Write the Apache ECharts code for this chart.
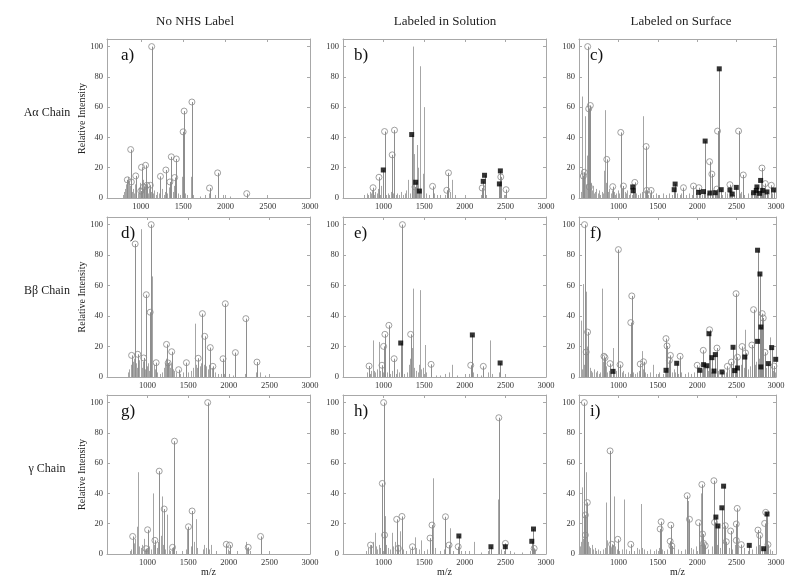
<!DOCTYPE html>
<html><head><meta charset="utf-8">
<script src="https://cdn.jsdelivr.net/npm/echarts@6/dist/echarts.min.js"></script>
<style>html,body{margin:0;padding:0;background:#fff}#c{width:800px;height:586px}</style>
</head><body><div id="c"></div>
<script>
const xTicks = [1000, 1500, 2000, 2500, 3000];
const yTicks = [0, 20, 40, 60, 80, 100];
const colTitles = ['No NHS Label', 'Labeled in Solution', 'Labeled on Surface'];
const rowTitles = ['A\u03b1 Chain', 'B\u03b2 Chain', '\u03b3 Chain'];
const panelLetters = ['a)', 'b)', 'c)', 'd)', 'e)', 'f)', 'g)', 'h)', 'i)'];
const xMins = [600, 500, 500, 500, 500, 500, 500, 500, 500];

// ---- a) ----
const aPeaks = [[790,2],[805,4],[815,6],[825,9],[832,5],[845,14],[852,7],[862,11],[870,8],[895,4],[905,6],[918,3],[930,9],[948,5],[962,3],[975,7],[990,10],[1018,6],[1025,12],[1040,4],[1048,9],[1064,5],[1080,3],[1095,6],[1120,4],[1140,3],[1160,5],[1175,2],[1190,4],[1210,3],[1250,6],[1268,2],[1285,4],[1310,3],[1330,7],[1352,5],[1375,4],[1390,8],[1440,3],[1460,2],[1490,14],[1520,3],[1540,2],[1590,14],[1620,2],[1700,1],[1760,2],[1800,3],[1880,2],[1970,2],[2060,1]];
const aCircles = [[1128,100],[880,32],[840,12],[888,10.6],[940,14.6],[1008,20.3],[1056,21.6],[1000,4.6],[1032,7.3],[1072,8.4],[1112,8.4],[1232,14.3],[1296,18.5],[1360,27.2],[1420,25.8],[1400,13.5],[1344,10.6],[1500,43.7],[1512,57.4],[1604,63.4],[1812,6.6],[1908,16.6],[2252,2.9]];
const aSquares = [];

// ---- b) ----
const bPeaks = [[760,2],[790,3],[810,2],[830,4],[845,3],[860,5],[880,2],[900,4],[920,3],[935,6],[955,2],[970,8],[1030,2],[1050,3],[1070,2],[1090,4],[1120,3],[1150,2],[1170,3],[1190,2],[1220,4],[1240,2],[1260,3],[1280,5],[1300,12],[1320,3],[1363,100],[1375,29],[1410,35],[1425,20],[1444,87],[1460,6],[1480,16],[1497,60],[1520,3],[1560,2],[1620,3],[1660,2],[1700,2],[1760,2],[1820,4],[1848,12],[1880,2],[2200,2],[2230,3],[2260,2],[2420,3],[2450,2],[2480,2]];
const bCircles = [[870,6.8],[943,13.7],[1012,43.9],[1134,44.8],[1106,28.5],[1387,7.3],[1603,7.7],[1799,16.6],[1778,5.1],[2214,6.6],[2443,13.9],[2508,5.5]];
const bSquares = [[996,18.5],[1346,41.9],[1395,10.4],[1440,4.6],[2227,11],[2243,15],[2426,9.3],[2438,17.9]];

// ---- c) ----
const cPeaks = [[520,4],[534,67],[545,8],[560,5],[570,12],[581,54],[595,9],[605,28],[615,6],[635,20],[650,10],[662,5],[675,8],[690,3],[705,4],[720,6],[735,3],[750,5],[765,2],[790,4],[805,3],[818,18],[826,7],[835,58],[845,10],[870,4],[885,6],[900,3],[915,5],[945,4],[960,2],[975,3],[990,5],[1010,3],[1045,6],[1080,4],[1095,3],[1110,5],[1130,2],[1150,3],[1170,2],[1195,4],[1225,3],[1250,2],[1270,3],[1295,4],[1318,54],[1335,5],[1350,3],[1380,2],[1400,3],[1440,2],[1480,3],[1520,2],[1560,3],[1600,2],[1640,3],[1680,2],[1740,3],[1780,2],[1800,3],[1860,2],[1900,3],[1930,2],[1980,3],[2000,2],[2040,3],[2060,2],[2120,3],[2140,4],[2200,3],[2240,4],[2270,3],[2320,2],[2350,4],[2380,3],[2400,5],[2430,3],[2470,2],[2540,3],[2560,4],[2600,2],[2640,3],[2680,4],[2700,2],[2730,3],[2770,4],[2850,3],[2900,2],[2950,3]];
const cCircles = [[610,100],[623,58.9],[644,61.1],[555,14.5],[568,17],[631,7.3],[852,25.5],[928,7.5],[1030,43.3],[1064,7.9],[1208,10.3],[1352,34],[1360,5],[1415,5],[1826,6.8],[1953,7.9],[2021,6.8],[2157,24],[2186,15.8],[2258,44.2],[2250,5.9],[2415,8.8],[2525,44.2],[2585,15.2],[2822,19.8],[2864,9.5],[2941,8.4]];
const cSquares = [[1182,7.3],[1186,4.8],[1708,5.5],[1720,9.2],[2101,37.6],[2017,3.7],[2080,4.2],[2161,3.3],[2229,3.5],[2280,85.3],[2305,5.5],[2415,5.3],[2445,2.6],[2496,7],[2716,3.5],[2750,5],[2758,7.3],[2792,3.1],[2805,11.6],[2830,5],[2885,4],[2970,5.3]];

// ---- d) ----
const dPeaks = [[760,3],[775,5],[790,8],[800,4],[815,10],[825,6],[835,12],[855,9],[865,6],[890,11],[900,7],[915,9],[924,97],[935,6],[945,10],[960,8],[970,5],[995,7],[1010,9],[1020,4],[1050,6],[1060,66],[1075,8],[1090,5],[1120,3],[1150,2],[1180,3],[1200,6],[1215,9],[1225,12],[1245,8],[1260,10],[1270,6],[1285,9],[1310,5],[1330,4],[1350,3],[1400,2],[1440,3],[1470,5],[1500,3],[1540,4],[1560,6],[1583,35],[1595,8],[1610,6],[1640,7],[1660,9],[1690,8],[1720,7],[1740,5],[1760,8],[1790,6],[1830,3],[1870,2],[1900,2],[1940,2],[2000,2],[2050,1],[2200,2],[2340,3],[2380,3],[2450,1]];
const dCircles = [[847,87.3],[1044,100],[984,54],[1032,42.5],[803,14.2],[879,14.9],[952,12.5],[1105,9.4],[1233,21.4],[1297,16.6],[1253,9.2],[1382,4.8],[1478,9.4],[1623,12.3],[1675,41.6],[1703,26.7],[1772,19.3],[1804,7],[1929,12],[1957,48.1],[2081,16],[2210,38.3],[2347,9.8]];
const dSquares = [];

// ---- e) ----
const ePeaks = [[800,3],[815,6],[830,2],[845,4],[866,24],[880,4],[900,3],[920,5],[947,23],[960,4],[990,3],[1040,3],[1080,2],[1100,4],[1150,2],[1170,5],[1190,3],[1250,2],[1290,3],[1310,8],[1320,12],[1340,10],[1354,19],[1366,58],[1380,6],[1400,4],[1420,3],[1435,8],[1447,57],[1460,5],[1480,6],[1504,21],[1520,3],[1580,2],[1640,1],[1700,1],[1760,2],[1800,3],[1841,8],[1900,1],[2000,1],[2050,2],[2100,3],[2150,2],[2200,1],[2280,3],[2309,24],[2330,2],[2420,3]];
const eCircles = [[1232,100],[821,7.2],[980,7.7],[1000,20.1],[1016,28],[1065,33.9],[1130,12],[1333,28],[1585,8.3],[2073,7.7],[2228,7]];
const eSquares = [[1211,22.3],[2093,27.6],[2435,9.2]];

// ---- f) ----
const fPeaks = [[525,37],[535,5],[549,61],[560,8],[575,12],[591,56],[600,20],[620,10],[635,6],[650,4],[670,3],[690,5],[710,3],[730,4],[750,2],[770,3],[787,58],[800,10],[815,5],[840,7],[860,3],[880,4],[905,3],[932,19],[950,3],[970,4],[990,2],[1040,3],[1060,4],[1090,2],[1120,3],[1145,2],[1190,3],[1210,2],[1240,3],[1260,4],[1294,17],[1310,5],[1340,3],[1360,2],[1400,3],[1440,8],[1480,2],[1520,3],[1560,2],[1590,4],[1630,6],[1680,3],[1700,5],[1720,3],[1760,2],[1800,3],[1840,2],[1880,3],[1920,2],[1960,3],[2000,4],[2040,3],[2060,5],[2100,6],[2140,4],[2170,3],[2200,5],[2260,4],[2300,3],[2340,4],[2370,3],[2400,5],[2440,6],[2480,4],[2530,5],[2560,8],[2590,6],[2604,31],[2640,5],[2670,7],[2700,4],[2730,8],[2750,10],[2785,12],[2820,9],[2870,6],[2900,5],[2923,26],[2960,4],[2985,3]];
const fCircles = [[570,100],[1000,83.6],[609,29.5],[591,16.4],[817,13.6],[830,12.7],[894,8.8],[1021,8.1],[1170,53.2],[1157,35.7],[1277,8.5],[1319,10],[1604,25.2],[1617,20.4],[1660,14.2],[1647,10.9],[1783,13.6],[2000,7.7],[2077,17.5],[2157,31],[2251,19],[2383,7],[2434,9.8],[2493,54.7],[2511,13],[2570,20],[2613,15.8],[2715,44.2],[2694,21],[2825,41.6],[2838,38.7],[2859,16.2],[2974,7.2]];
const fSquares = [[932,3.7],[1604,4.4],[1740,9],[2034,4.4],[2081,8.1],[2123,7.4],[2149,28.4],[2187,12.7],[2230,14.7],[2213,3.9],[2315,3.3],[2455,19.5],[2476,4.2],[2511,5.9],[2604,13.1],[2766,83.2],[2796,67.6],[2808,32.8],[2766,23.4],[2808,6.6],[2902,8.8],[2945,19.3],[2996,11.6]];

// ---- g) ----
const gPeaks = [[780,2],[800,3],[820,4],[835,7],[850,10],[865,18],[885,54],[900,5],[915,4],[930,6],[950,10],[965,3],[990,4],[1020,5],[1040,3],[1061,40],[1075,6],[1110,4],[1125,8],[1160,12],[1172,38],[1190,6],[1220,3],[1245,26],[1260,3],[1280,2],[1300,4],[1350,2],[1420,2],[1470,3],[1490,16],[1530,5],[1570,8],[1593,23],[1610,4],[1680,3],[1700,6],[1720,4],[1760,3],[1780,6],[1840,2],[1990,3],[2020,2],[2100,2],[2206,8],[2220,4],[2260,2],[2400,3]];
const gCircles = [[1740,100],[1331,74.5],[1143,54.7],[1204,29.7],[1548,28.4],[1503,18],[1000,16],[816,11.6],[1090,9],[980,3.5],[1307,4.4],[1969,6.4],[2010,5.9],[2239,4.4],[2391,11.6]];
const gSquares = [];

// ---- h) ----
const hPeaks = [[780,2],[810,4],[830,6],[850,3],[870,8],[891,14],[905,5],[920,3],[940,6],[960,4],[1020,25],[1030,6],[1060,4],[1080,3],[1101,14],[1120,5],[1140,8],[1180,6],[1200,15],[1240,3],[1280,2],[1330,3],[1383,11],[1400,4],[1440,3],[1463,9],[1500,2],[1540,3],[1613,50],[1630,4],[1700,2],[1740,3],[1814,17],[1860,2],[1950,2],[2050,2],[2108,8],[2200,1],[2280,2],[2300,3],[2410,36],[2440,3],[2480,2],[2560,2],[2600,1],[2700,1],[2800,2],[2840,6],[2860,3]];
const hCircles = [[1000,100],[984,46.6],[1012,12.5],[839,5.9],[1161,22.9],[1226,24.8],[1181,3.7],[1355,4.8],[1572,10.5],[1596,19.1],[1762,24.6],[1806,5.9],[1919,4.8],[2419,90],[2500,7],[2854,3.7]];
const hSquares = [[1927,11.9],[2322,4.8],[2499,4.8],[2825,8.4],[2846,16.5]];

// ---- i) ----
const iPeaks = [[500,18],[515,5],[530,8],[542,44],[555,10],[570,6],[589,54],[600,20],[615,8],[630,5],[645,4],[660,6],[680,3],[700,4],[720,2],[745,3],[770,2],[800,3],[830,4],[846,34],[860,9],[880,5],[905,4],[930,6],[948,38],[960,5],[980,3],[1010,2],[1040,3],[1076,36],[1100,3],[1130,2],[1160,3],[1200,2],[1230,4],[1260,3],[1284,33],[1300,4],[1330,3],[1360,2],[1400,3],[1450,2],[1480,3],[1520,4],[1550,3],[1580,2],[1620,3],[1700,4],[1750,3],[1800,2],[1850,3],[1880,35],[1920,4],[1950,3],[1990,5],[2030,6],[2050,40],[2100,4],[2140,3],[2190,5],[2230,20],[2250,6],[2290,4],[2320,8],[2350,5],[2400,4],[2440,3],[2480,6],[2520,5],[2560,3],[2600,4],[2640,2],[2700,3],[2740,5],[2780,6],[2820,4],[2880,25],[2920,3],[2950,2]];
const iCircles = [[568,100],[894,68.1],[606,34],[581,25.7],[581,12.5],[915,6.4],[992,9.7],[1157,6.4],[1542,21.3],[1530,16.5],[1665,19.1],[1657,8.4],[1678,5.3],[1873,38.5],[1902,22.9],[2017,20.7],[2059,45.9],[2068,13.2],[2080,7],[2102,5.5],[2212,48.4],[2220,20.9],[2356,18.7],[2369,8.1],[2424,15.2],[2508,30.1],[2496,19.8],[2496,9],[2559,6.2],[2771,15.8],[2792,12.3],[2856,20.2],[2869,27.5],[2898,6.2]];
const iSquares = [[2237,24.4],[2263,18.5],[2313,30.5],[2335,44.8],[2661,5.7],[2843,3.5],[2886,26.4]];

const peaksAll = [aPeaks, bPeaks, cPeaks, dPeaks, ePeaks, fPeaks, gPeaks, hPeaks, iPeaks];
const circlesAll = [aCircles, bCircles, cCircles, dCircles, eCircles, fCircles, gCircles, hCircles, iCircles];
const squaresAll = [aSquares, bSquares, cSquares, dSquares, eSquares, fSquares, gSquares, hSquares, iSquares];

// layout
const colLeft = [107, 343, 579];
const colWidth = [203, 203, 197];
const rowTop = [39, 217, 395];
const rowHeight = [159, 160, 159];
const colTitleX = [195, 445, 681];

const FONT = '"Liberation Serif","Times New Roman",serif';
const frameColor = '#a8a8a8';
const labelColor = '#333';
const plainNum = function (v) { return String(v); };

function stemRenderer(color) {
  return function (params, api) {
    const x = api.value(0), y = api.value(1);
    const p0 = api.coord([x, 0]);
    const p1 = api.coord([x, y]);
    const px = Math.round(p0[0]) + 0.5;
    return {
      type: 'line',
      shape: { x1: px, y1: p0[1], x2: px, y2: p1[1] },
      style: { stroke: color, lineWidth: 1 }
    };
  };
}

const grids = [], xAxes = [], yAxes = [], series = [], graphics = [];
for (let r = 0; r < 3; r++) {
  for (let c = 0; c < 3; c++) {
    const i = r * 3 + c;
    grids.push({ left: colLeft[c], top: rowTop[r], width: colWidth[c], height: rowHeight[r], show: false });
    const xBase = {
      type: 'value', gridIndex: i, min: xMins[i], max: 3000,
      axisLine: { show: true, onZero: false, lineStyle: { color: frameColor, width: 1 } },
      axisTick: { show: true, inside: true, length: 3, customValues: xTicks, lineStyle: { color: frameColor } },
      splitLine: { show: false }
    };
    xAxes.push(Object.assign({}, xBase, {
      position: 'bottom',
      axisLabel: { show: true, customValues: xTicks, formatter: plainNum, margin: 4, fontFamily: FONT, fontSize: 8.5, color: labelColor }
    }));
    xAxes.push(Object.assign({}, xBase, { position: 'top', axisLabel: { show: false } }));
    const yBase = {
      type: 'value', gridIndex: i, min: 0, max: 105,
      axisLine: { show: true, onZero: false, lineStyle: { color: frameColor, width: 1 } },
      axisTick: { show: true, inside: true, length: 3, customValues: yTicks, lineStyle: { color: frameColor } },
      splitLine: { show: false }
    };
    yAxes.push(Object.assign({}, yBase, {
      position: 'left',
      axisLabel: { show: true, customValues: yTicks, formatter: plainNum, margin: 4, fontFamily: FONT, fontSize: 8.5, color: labelColor }
    }));
    yAxes.push(Object.assign({}, yBase, { position: 'right', axisLabel: { show: false } }));

    const xi = i * 2, yi = i * 2;
    series.push({
      type: 'custom', xAxisIndex: xi, yAxisIndex: yi, renderItem: stemRenderer('#a6a6a6'),
      encode: { x: 0, y: 1 }, data: peaksAll[i], silent: true, clip: true, z: 1
    });
    series.push({
      type: 'custom', xAxisIndex: xi, yAxisIndex: yi, renderItem: stemRenderer('#8e8e8e'),
      encode: { x: 0, y: 1 }, data: circlesAll[i].concat(squaresAll[i]), silent: true, clip: true, z: 2
    });
    series.push({
      type: 'scatter', xAxisIndex: xi, yAxisIndex: yi, data: circlesAll[i],
      symbol: 'circle', symbolSize: 6, silent: true, z: 3,
      itemStyle: { color: 'rgba(0,0,0,0)', borderColor: '#8a8a8a', borderWidth: 1 }
    });
    series.push({
      type: 'scatter', xAxisIndex: xi, yAxisIndex: yi, data: squaresAll[i],
      symbol: 'rect', symbolSize: 5, silent: true, z: 4,
      itemStyle: { color: '#000' }
    });

    // panel letter
    graphics.push({
      type: 'text', x: colLeft[c] + (c === 0 ? 14 : 11), y: rowTop[r] + 17,
      style: { text: panelLetters[i], font: '17px ' + FONT, fill: '#111', textAlign: 'left', textVerticalAlign: 'middle' }
    });
  }
}
for (let c = 0; c < 3; c++) {
  graphics.push({
    type: 'text', x: colTitleX[c], y: 22,
    style: { text: colTitles[c], font: '13px ' + FONT, fill: '#222', textAlign: 'center', textVerticalAlign: 'middle' }
  });
  graphics.push({
    type: 'text', x: colLeft[c] + colWidth[c] / 2, y: 572,
    style: { text: 'm/z', font: '10px ' + FONT, fill: '#222', textAlign: 'center', textVerticalAlign: 'middle' }
  });
}
for (let r = 0; r < 3; r++) {
  graphics.push({
    type: 'text', x: 47, y: rowTop[r] + rowHeight[r] / 2 - 6,
    style: { text: rowTitles[r], font: '12px ' + FONT, fill: '#222', textAlign: 'center', textVerticalAlign: 'middle' }
  });
  graphics.push({
    type: 'text', x: 82, y: rowTop[r] + rowHeight[r] / 2, rotation: Math.PI / 2,
    style: { text: 'Relative Intensity', font: '10px ' + FONT, fill: '#222', textAlign: 'center', textVerticalAlign: 'middle' }
  });
}

const chart = echarts.init(document.getElementById('c'), null, { renderer: 'canvas' });
chart.setOption({
  animation: false,
  backgroundColor: '#fff',
  grid: grids,
  xAxis: xAxes,
  yAxis: yAxes,
  series: series,
  graphic: { elements: graphics }
});
</script></body></html>
